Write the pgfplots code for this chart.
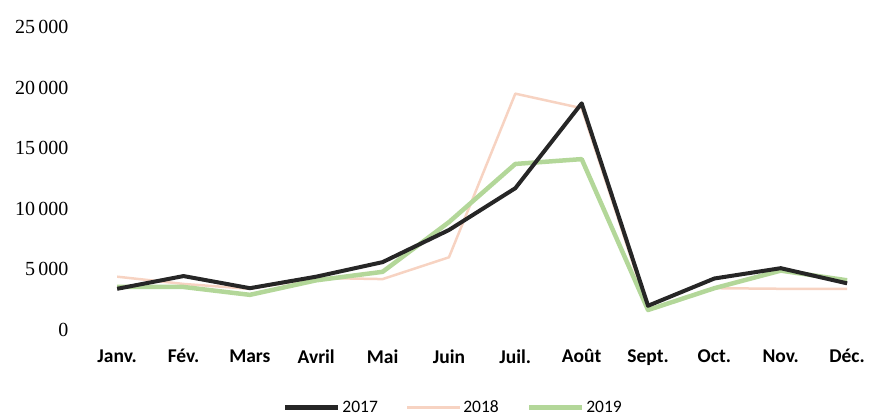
\documentclass[border=0pt]{standalone}
\usepackage{pgfplots}
\pgfplotsset{compat=1.18}
\usepackage{fontspec}
\setmainfont{Liberation Serif}
\newfontfamily\calibri{Carlito}

\definecolor{c2017}{HTML}{262626}
\definecolor{c2018}{HTML}{F7D3C2}
\definecolor{c2019}{HTML}{B3D799}

\begin{document}
\begin{tikzpicture}[x=1pt,y=1pt]
  \begin{axis}[
    name=ax,
    scale only axis,
    width=791pt, height=303pt,
    xmin=-0.56, xmax=11.36,
    ymin=0, ymax=25000,
    axis line style={draw=none},
    scaled y ticks=false,
    xtick={0,...,11},
    xticklabels={Janv.,Fév.,Mars,Avril,Mai,Juin,Juil.,Août,Sept.,Oct.,Nov.,Déc.},
    ytick={0,5000,10000,15000,20000,25000},
    yticklabels={0,5\,000,10\,000,15\,000,20\,000,25\,000},
    tick style={draw=none},
    xticklabel style={font=\calibri\bfseries\fontsize{19.5}{22}\selectfont, yshift=-16pt},
    yticklabel style={font=\fontsize{20}{22}\selectfont, xshift=-8pt},
    legend style={
      at={(0.472,-0.255)}, anchor=center,
      draw=none, fill=none,
      legend columns=3,
      font=\calibri\fontsize{17.5}{20}\selectfont,
      /tikz/every even column/.append style={column sep=26pt}
    },
    legend image code/.code={
      \draw[#1] (0pt,0pt) -- (53pt,0pt);
    },
    line join=round,
  ]
    \addlegendimage{c2017, line width=4.5pt}
    \addlegendentry{2017}
    \addlegendimage{c2018, line width=2.5pt}
    \addlegendentry{2018}
    \addlegendimage{c2019, line width=4.5pt}
    \addlegendentry{2019}
    \addplot[c2018, line width=2.5pt, forget plot] coordinates {
      (0,4400) (1,3800) (2,3400) (3,4300) (4,4200) (5,6000)
      (6,19500) (7,18300) (8,1700) (9,3450) (10,3400) (11,3400)
    };
    \addplot[c2019, line width=4.5pt, forget plot] coordinates {
      (0,3550) (1,3550) (2,2900) (3,4100) (4,4800) (5,8900)
      (6,13700) (7,14100) (8,1650) (9,3450) (10,4900) (11,4100)
    };
    \addplot[c2017, line width=4pt, forget plot] coordinates {
      (0,3400) (1,4450) (2,3450) (3,4400) (4,5600) (5,8250)
      (6,11700) (7,18700) (8,2000) (9,4250) (10,5100) (11,3850)
    };
  \end{axis}
  \path[use as bounding box] ([xshift=-80pt,yshift=-85pt]ax.south west)
    rectangle ([yshift=27pt]ax.north east);
\end{tikzpicture}
\end{document}
